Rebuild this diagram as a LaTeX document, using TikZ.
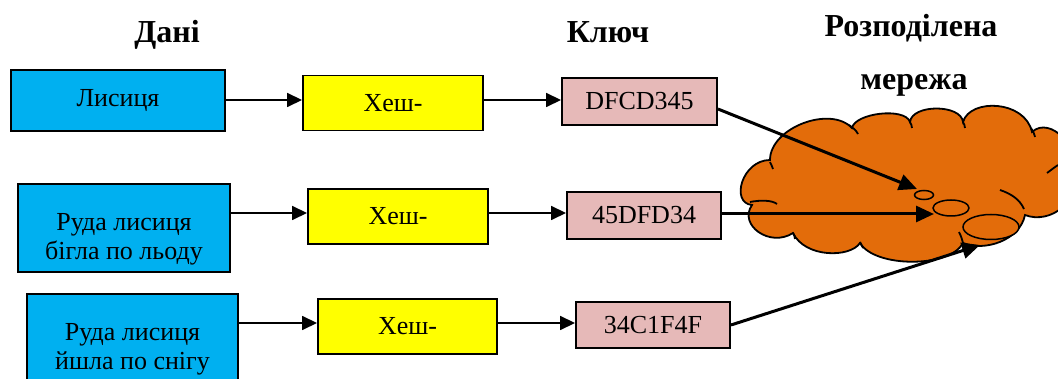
\documentclass[tikz,border=0pt]{standalone}
\usepackage{fontspec}
\setmainfont{Liberation Serif}
\usetikzlibrary{arrows.meta}
\definecolor{boxblue}{RGB}{0,176,240}
\definecolor{hashyellow}{RGB}{255,255,0}
\definecolor{keypink}{RGB}{230,185,184}
\definecolor{cloudorange}{RGB}{227,108,10}
\begin{document}
\begin{tikzpicture}[x=1pt,y=-1pt,
 box/.style={draw=black, line width=1.9pt, inner sep=0pt, font=\fontsize{26}{29}\selectfont, align=center},
 databox/.style={box, fill=boxblue},
 hashbox/.style={box, fill=hashyellow, minimum width=180pt, minimum height=55pt},
 keybox/.style={box, fill=keypink, minimum width=155pt, minimum height=47pt},
 txt/.style={font=\fontsize{26}{29}\selectfont, align=center, inner sep=0pt},
 head/.style={font=\fontsize{32}{34}\selectfont\bfseries, inner sep=0pt, anchor=base},
 thinarr/.style={line width=1.6pt, -{Triangle[length=15pt,width=14pt]}},
 thickarr/.style={line width=3pt, -{Triangle[length=18pt,width=16pt]}},
 cloudline/.style={draw=black, line width=1.8pt}]
\useasboundingbox (0,0) rectangle (1058,379);
\clip (0,0) rectangle (1058,379);

% headers
\node[head] (hd) at (167,43) {Дані};
\node[head] (hk) at (608,43) {Ключ};
\node[head] (hn1) at (911,37) {Розподілена};
\node[head] (hn2) at (914,90) {мережа};

% cloud
\path[fill=cloudorange, cloudline] (752,205) .. controls (730,203) and (742,160) .. (770,160)
  .. controls (770,128) and (830,105) .. (852,128)
  .. controls (855,113) and (905,107) .. (910,122)
  .. controls (912,104) and (961,104) .. (963,122)
  .. controls (970,98) and (1025,100) .. (1032,132)
  .. controls (1050,115) and (1085,150) .. (1064,172)
  .. controls (1085,200) and (1050,225) .. (1025,215)
  .. controls (1020,240) and (985,252) .. (963,243)
  .. controls (950,268) and (875,268) .. (860,243)
  .. controls (850,258) and (805,258) .. (793,233)
  .. controls (770,248) and (738,225) .. (752,205) -- cycle;
\draw[cloudline] (750,202) .. controls (760,200) and (772,200) .. (777,204);
\draw[cloudline] (849,125) .. controls (853,128) and (856,130) .. (858,134);
\draw[cloudline] (910,122) .. controls (911,124) and (912,126) .. (912,128);
\draw[cloudline] (963,122) .. controls (964,124) and (965,126) .. (965,128);
\draw[cloudline] (1031,128) .. controls (1033,131) and (1034,133) .. (1035,137);
\draw[cloudline] (1047,173) .. controls (1051,170) and (1055,167) .. (1058,165);
\draw[cloudline] (1000,190) .. controls (1012,194) and (1020,200) .. (1024,209);
\draw[cloudline] (959,232) .. controls (961,236) and (962,239) .. (963,243);
\draw[cloudline] (860,242) .. controls (861,244) and (862,246) .. (863,248);
\draw[cloudline] (793,233) .. controls (794,235) and (795,237) .. (795,239);
\draw[cloudline] (770,162) .. controls (771,164) and (772,166) .. (773,169);

% small ellipses (nodes of the network)
\draw[fill=cloudorange, line width=1.5pt] (924,195) ellipse [x radius=9.5, y radius=4.5];
\draw[fill=cloudorange, line width=1.5pt] (951,208) ellipse [x radius=18, y radius=8];
\draw[fill=cloudorange, line width=1.5pt] (991,227) ellipse [x radius=28, y radius=12.5];
\coordinate (t1) at (917,189);
\coordinate (t2) at (934,214);
\coordinate (t3) at (980,245);

% row 1
\node[databox, minimum width=214pt, minimum height=61pt] (d1) at (118,100.5) {Лисиця};
\node[hashbox] (h1) at (393,103) {Хеш-};
\node[keybox] (k1) at (639.5,101.5) {DFCD345};
% row 2
\node[databox, minimum width=212pt, minimum height=88pt] (d2) at (124,228) {};
\node[txt] (t2txt) at (124,239) {Руда лисиця\\бігла по льоду};
\node[hashbox] (h2) at (398,216.5) {Хеш-};
\node[keybox, minimum width=154pt] (k2) at (644,215.5) {45DFD34};
% row 3
\node[databox, minimum width=211pt, minimum height=110pt] (d3) at (132.5,349) {};
\node[txt] (t3txt) at (132.5,349.5) {Руда лисиця\\йшла по снігу};
\node[hashbox, minimum width=179pt] (h3) at (407.5,326.5) {Хеш-};
\node[keybox, minimum width=154pt, minimum height=46pt] (k3) at (653,325) {34C1F4F};

% row levels
\coordinate (r1) at (0,100);
\coordinate (r2) at (0,213);
\coordinate (r3) at (0,323);
\coordinate (s1) at (0,109);
\coordinate (s2) at (0,214);

\draw[thinarr] (d1.east |- r1) -- (h1.west |- r1);
\draw[thinarr] (h1.east |- r1) -- (k1.west |- r1);
\draw[thinarr] (d2.east |- r2) -- (h2.west |- r2);
\draw[thinarr] (h2.east |- r2) -- (k2.west |- r2);
\draw[thinarr] (d3.east |- r3) -- (h3.west |- r3);
\draw[thinarr] (h3.east |- r3) -- (k3.west |- r3);

\draw[thickarr] (k1.east |- s1) -- (t1);
\draw[thickarr] (k2.east |- s2) -- (t2);
\draw[thickarr] (k3.east) -- (t3);
\end{tikzpicture}
\end{document}
